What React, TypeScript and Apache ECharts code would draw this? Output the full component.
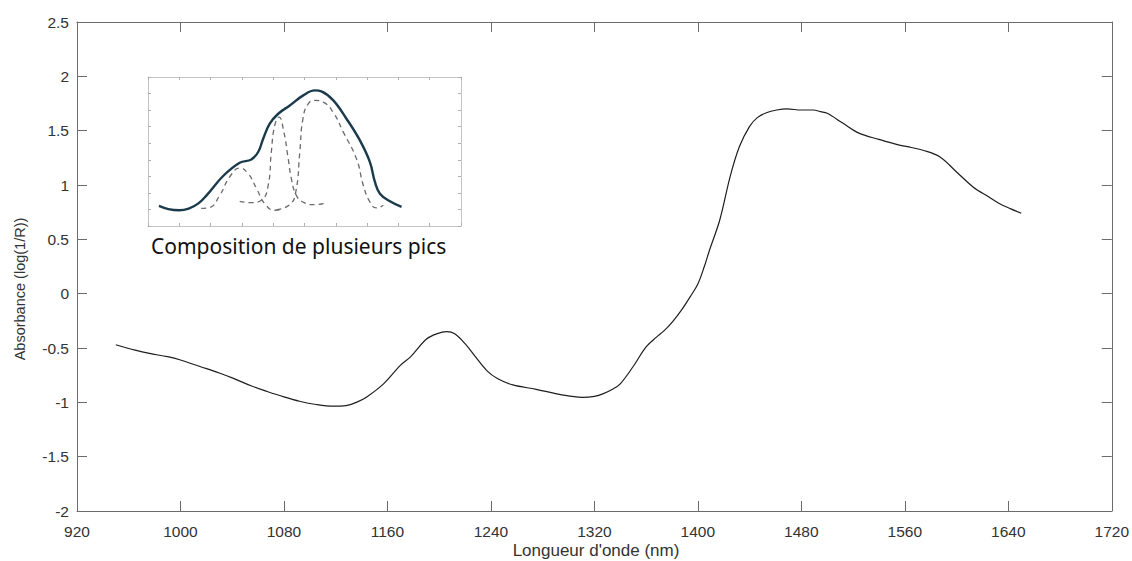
import React, { useEffect, useRef } from "react";
import * as echarts from "echarts";

// Main spectrum: wavelength (nm) and absorbance
const wavelengths = [
  950, 965, 976, 990, 1000, 1015, 1030, 1041, 1055, 1067, 1080, 1092, 1105, 1118, 1128,
  1136, 1144, 1157, 1170, 1178, 1190, 1198, 1206, 1212, 1220, 1228, 1237, 1245, 1257,
  1275, 1290, 1300, 1311, 1320, 1327, 1334, 1340, 1350, 1360, 1368, 1374, 1381, 1388,
  1394, 1400, 1405, 1409, 1417, 1425, 1432, 1440, 1446, 1453, 1461, 1469, 1480, 1489,
  1495, 1500, 1512, 1525, 1540, 1555, 1565, 1574, 1587, 1600, 1613, 1625, 1633, 1642, 1650,
];
const absorbance = [
  -0.47, -0.52, -0.55, -0.58, -0.61, -0.67, -0.73, -0.78, -0.85, -0.9, -0.95, -0.99, -1.02,
  -1.035, -1.03, -1.0, -0.95, -0.83, -0.66, -0.58, -0.42, -0.37, -0.35, -0.37, -0.46, -0.58,
  -0.71, -0.78, -0.84, -0.88, -0.92, -0.94, -0.955, -0.945, -0.92, -0.88, -0.83, -0.67, -0.49,
  -0.4, -0.34, -0.25, -0.14, -0.03, 0.09, 0.25, 0.4, 0.68, 1.08, 1.35, 1.54, 1.62, 1.665, 1.69,
  1.7, 1.69, 1.69, 1.675, 1.66, 1.57, 1.475, 1.42, 1.37, 1.345, 1.32, 1.26, 1.12, 0.98, 0.89,
  0.83, 0.78, 0.74,
];

// Axis ranges / ticks
const xMin = 920;
const xMax = 1720;
const xStep = 80;
const yMin = -2;
const yMax = 2.5;
const yStep = 0.5;

// Inset: envelope and component peaks (arbitrary units)
const insetEnvelope = [
  [0.35, 1.21], [0.65, 1.02], [1.0, 0.95], [1.3, 1.05], [1.6, 1.35], [1.87, 1.85], [2.4, 3.02],
  [2.93, 3.82], [3.3, 4.02], [3.52, 4.47], [3.68, 5.27], [3.89, 6.18], [4.16, 6.78], [4.53, 7.28],
  [4.96, 7.89], [5.33, 8.19], [5.54, 8.13], [5.92, 7.59], [6.34, 6.48], [6.77, 5.17], [7.09, 3.86],
  [7.25, 2.66], [7.41, 1.95], [7.73, 1.49], [8.1, 1.15],
];
const insetPeak1 = [
  [1.7, 1.07], [1.97, 1.12], [2.29, 1.85], [2.61, 2.96], [2.93, 3.5], [3.2, 3.16], [3.47, 2.25],
  [3.73, 1.35], [4.05, 0.95], [4.2, 0.97],
];
const insetPeak2 = [
  [2.93, 1.49], [3.3, 1.41], [3.62, 1.55], [3.84, 2.45], [3.94, 4.47], [4.05, 6.08], [4.19, 6.58],
  [4.32, 5.88], [4.48, 4.06], [4.58, 2.86], [4.74, 1.85], [4.95, 1.45], [5.28, 1.29], [5.61, 1.35],
];
const insetPeak3 = [
  [4.1, 0.98], [4.53, 1.29], [4.72, 2.05], [4.85, 4.47], [4.95, 6.48], [5.12, 7.38], [5.33, 7.59],
  [5.6, 7.48], [5.91, 6.88], [6.24, 5.67], [6.66, 4.06], [6.88, 2.45], [7.09, 1.45], [7.3, 1.09],
  [7.52, 1.25],
];
const insetXMax = 10;
const insetYMax = 9;

const xLabel = "Longueur d'onde (nm)";
const yLabel = "Absorbance (log(1/R))";
const insetCaption = "Composition de plusieurs pics";

const FONT = "'Liberation Sans', Arial, sans-serif";

export default function App() {
  const ref = useRef<HTMLDivElement>(null);

  useEffect(() => {
    if (!ref.current) return;
    const chart = echarts.init(ref.current, undefined, { renderer: "svg" });

    const axisLineMain = { show: true, onZero: false, lineStyle: { color: "#6b6b6b", width: 1 } };
    const tickMain = { show: true, inside: true, length: 10, lineStyle: { color: "#6b6b6b", width: 1 } };
    const labelMain = {
      color: "#333", fontSize: 15.5, fontFamily: FONT,
      formatter: (v: number) => String(v),
    };

    const axisLineInset = { show: true, onZero: false, lineStyle: { color: "#c4c4c4", width: 1 } };
    const tickInset = { show: true, inside: true, length: 3, lineStyle: { color: "#b0b0b0", width: 1 } };

    const mainData = wavelengths.map((w, i) => [w, absorbance[i]]);

    chart.setOption({
      animation: false,
      backgroundColor: "#ffffff",
      grid: [
        { left: 77, top: 22, width: 1035, height: 489, containLabel: false },
        { left: 148, top: 77, width: 313, height: 149, containLabel: false },
      ],
      xAxis: [
        {
          type: "value", gridIndex: 0, min: xMin, max: xMax, interval: xStep, position: "bottom",
          axisLine: axisLineMain, axisTick: tickMain, splitLine: { show: false },
          axisLabel: { ...labelMain, margin: 12 },
        },
        {
          type: "value", gridIndex: 0, min: xMin, max: xMax, interval: xStep, position: "top",
          axisLine: axisLineMain, axisTick: tickMain, splitLine: { show: false },
          axisLabel: { show: false },
        },
        {
          type: "value", gridIndex: 1, min: 0, max: insetXMax, interval: 1, position: "bottom",
          axisLine: axisLineInset, axisTick: tickInset, splitLine: { show: false },
          axisLabel: { show: false },
        },
        {
          type: "value", gridIndex: 1, min: 0, max: insetXMax, interval: 1, position: "top",
          axisLine: axisLineInset, axisTick: tickInset, splitLine: { show: false },
          axisLabel: { show: false },
        },
      ],
      yAxis: [
        {
          type: "value", gridIndex: 0, min: yMin, max: yMax, interval: yStep, position: "left",
          axisLine: axisLineMain, axisTick: tickMain, splitLine: { show: false },
          axisLabel: { ...labelMain, margin: 8 },
        },
        {
          type: "value", gridIndex: 0, min: yMin, max: yMax, interval: yStep, position: "right",
          axisLine: axisLineMain, axisTick: tickMain, splitLine: { show: false },
          axisLabel: { show: false },
        },
        {
          type: "value", gridIndex: 1, min: 0, max: insetYMax, interval: 1, position: "left",
          axisLine: axisLineInset, axisTick: tickInset, splitLine: { show: false },
          axisLabel: { show: false },
        },
        {
          type: "value", gridIndex: 1, min: 0, max: insetYMax, interval: 1, position: "right",
          axisLine: axisLineInset, axisTick: tickInset, splitLine: { show: false },
          axisLabel: { show: false },
        },
      ],
      series: [
        {
          type: "line", xAxisIndex: 0, yAxisIndex: 0, data: mainData, smooth: 0.35,
          symbol: "none", lineStyle: { color: "#1e1e1e", width: 1.2 },
        },
        {
          type: "line", xAxisIndex: 2, yAxisIndex: 2, data: insetPeak1, smooth: 0.5,
          symbol: "none", lineStyle: { color: "#6a6a6a", width: 1.3, type: [5, 4] },
        },
        {
          type: "line", xAxisIndex: 2, yAxisIndex: 2, data: insetPeak2, smooth: 0.5,
          symbol: "none", lineStyle: { color: "#6a6a6a", width: 1.3, type: [5, 4] },
        },
        {
          type: "line", xAxisIndex: 2, yAxisIndex: 2, data: insetPeak3, smooth: 0.5,
          symbol: "none", lineStyle: { color: "#6a6a6a", width: 1.3, type: [5, 4] },
        },
        {
          type: "line", xAxisIndex: 2, yAxisIndex: 2, data: insetEnvelope, smooth: 0.4,
          symbol: "none", lineStyle: { color: "#1b3a4b", width: 2.4 },
        },
      ],
      graphic: [
        {
          type: "text", x: 20, y: 289, rotation: Math.PI / 2,
          style: { text: yLabel, fill: "#333", font: `14.5px ${FONT}`, align: "center", verticalAlign: "middle" },
        },
        {
          type: "text", x: 596, y: 550,
          style: { text: xLabel, fill: "#333", font: `17px ${FONT}`, align: "center", verticalAlign: "middle" },
        },
        {
          type: "text", x: 151, y: 246,
          style: { text: insetCaption, fill: "#111", font: `21px 'Noto Sans', sans-serif`, align: "left", verticalAlign: "middle" },
        },
      ],
    });

    return () => chart.dispose();
  }, []);

  return (
    <div
      ref={ref}
      style={{ position: "fixed", left: 0, top: 0, width: 1132, height: 561, background: "#fff" }}
    />
  );
}
